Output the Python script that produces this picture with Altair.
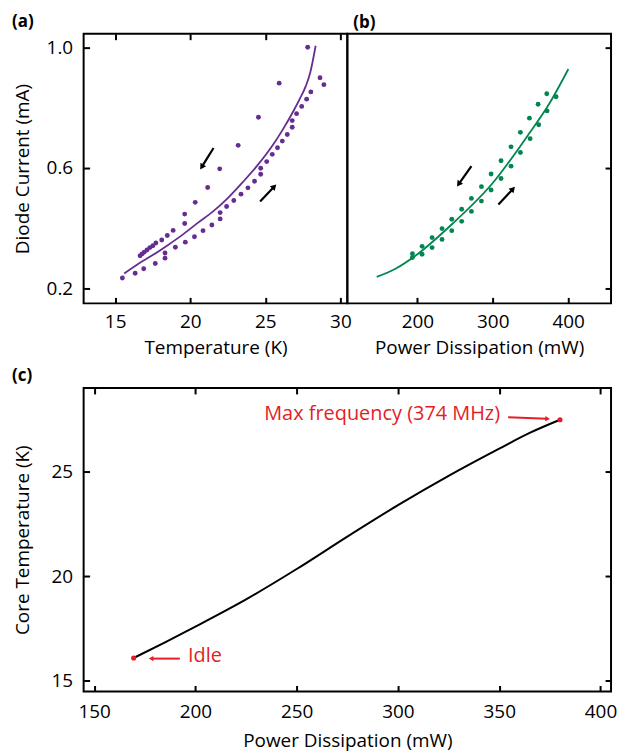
import altair as alt
import pandas as pd

FONT = "Open Sans"
PURPLE = "#662d91"
GREEN = "#00864f"
RED = "#e31e26"

# ---------------- panel (a): temperature vs diode current ----------------
a_warm_T = [15.48, 16.33, 16.90, 17.67, 18.32, 18.32, 19.01, 19.67, 20.28, 20.85, 21.44,
            21.99, 21.99, 22.42, 22.90, 23.38, 23.84, 24.28, 24.69, 24.69, 25.09, 25.46,
            25.81, 26.13, 26.46, 26.79, 26.79, 27.08, 27.42, 27.75, 28.03, 28.64, 28.90]
a_warm_I = [0.235, 0.251, 0.266, 0.283, 0.301, 0.318, 0.337, 0.354, 0.372, 0.392, 0.411,
            0.431, 0.452, 0.472, 0.492, 0.513, 0.534, 0.556, 0.579, 0.599, 0.621, 0.645,
            0.667, 0.689, 0.711, 0.735, 0.757, 0.780, 0.804, 0.828, 0.852, 0.899, 0.876]
a_cool_T = [27.82, 25.92, 24.54, 23.19, 21.96, 21.16, 20.33, 19.63, 19.63, 18.86, 18.47,
            18.10, 17.71, 17.51, 17.31, 17.12, 16.94, 16.79, 16.66]
a_cool_I = [1.000, 0.881, 0.768, 0.675, 0.597, 0.535, 0.486, 0.447, 0.416, 0.393, 0.376,
            0.361, 0.351, 0.342, 0.336, 0.328, 0.321, 0.315, 0.309]
a_fit_T = [15.6, 16.5, 17.5, 18.5, 19.5, 20.5, 21.5, 22.5, 23.5, 24.5, 25.5, 26.1, 26.8,
           27.3, 27.7, 28.0, 28.35]
a_fit_I = [0.250, 0.281, 0.311, 0.344, 0.379, 0.418, 0.455, 0.500, 0.553, 0.610, 0.676,
           0.722, 0.782, 0.830, 0.872, 0.918, 1.005]
a_arrow_x0 = [21.55, 24.65]
a_arrow_y0 = [0.666, 0.489]
a_arrow_x1 = [20.80, 25.55]
a_arrow_y1 = [0.606, 0.536]
a_arrow_ang = [212, 44]
a_xticks = [15, 20, 25, 30]
a_yticks = [0.2, 0.6, 1.0]

# ---------------- panel (b): power vs diode current ----------------
b_up_P = [193.4, 206.2, 219.5, 232.7, 245.6, 258.8, 271.7, 285.0, 297.8, 311.0, 324.3,
          336.7, 348.7, 360.2, 371.7]
b_up_I = [0.316, 0.340, 0.369, 0.399, 0.430, 0.463, 0.499, 0.538, 0.580, 0.624, 0.670,
          0.718, 0.765, 0.811, 0.846]
b_lo_P = [193.4, 206.2, 219.5, 232.7, 245.6, 258.8, 271.7, 285.0, 297.8, 311.0, 324.3,
          336.7, 349.6, 361.0, 372.1, 384.0]
b_lo_I = [0.303, 0.314, 0.336, 0.363, 0.392, 0.423, 0.456, 0.490, 0.527, 0.565, 0.606,
          0.651, 0.697, 0.743, 0.789, 0.836]
b_fit_P = [146, 171, 200, 246.5, 300, 348, 374.8, 400.4]
b_fit_I = [0.239, 0.266, 0.314, 0.415, 0.550, 0.713, 0.812, 0.928]
b_arrow_x0 = [271.7, 307.5]
b_arrow_y0 = [0.606, 0.479]
b_arrow_x1 = [255.5, 326.0]
b_arrow_y1 = [0.549, 0.528]
b_arrow_ang = [215, 43]
b_xticks = [200, 300, 400]

# ---------------- panel (c): power vs core temperature ----------------
c_P = [169.5, 185, 200, 225, 250, 275, 300, 325, 350, 365, 380]
c_T = [16.10, 16.85, 17.60, 18.90, 20.35, 21.90, 23.40, 24.80, 26.10, 26.85, 27.48]
c_mark_P = [169.5, 380.0]
c_mark_T = [16.10, 27.48]
c_arrow_x0 = [192.3, 354.4]
c_arrow_y0 = [16.07, 27.60]
c_arrow_x1 = [178.5, 373.5]
c_arrow_y1 = [16.07, 27.53]
c_arrow_ang = [270, 94]
c_labels = ["Idle", "Max frequency (374 MHz)"]
c_label_P = [196.3, 350.4]
c_label_T = [16.20, 27.75]
c_label_align = ["left", "right"]
c_xticks = [150, 200, 250, 300, 350, 400]
c_yticks = [15, 20, 25]

FS = 19


def axis(**kw):
    base = dict(domain=False, grid=False, tickColor="black", tickWidth=2, tickSize=6,
                offset=-6, labelFlush=False, labelFont=FONT, labelFontSize=FS,
                labelColor="black", titleFont=FONT, titleFontSize=FS,
                titleFontWeight="normal", titleColor="black")
    base.update(kw)
    return alt.Axis(**base)


def panel_title(text, dx):
    return alt.TitleParams(text, anchor="start", frame="group", dx=dx, offset=2,
                           fontSize=17, fontWeight="bold", font=FONT, color="black")


# ---- panel (a)
xa = alt.Scale(domain=[12.9, 30.46], nice=False, zero=False)
ya = alt.Scale(domain=[0.151, 1.045], nice=False, zero=False)
a_pts_df = pd.DataFrame({"T": a_warm_T + a_cool_T, "I": a_warm_I + a_cool_I})
a_fit_df = pd.DataFrame({"T": a_fit_T, "I": a_fit_I})
a_arr_df = pd.DataFrame({"x0": a_arrow_x0, "y0": a_arrow_y0, "x1": a_arrow_x1,
                         "y1": a_arrow_y1, "ang": a_arrow_ang})

a_pts = alt.Chart(a_pts_df).mark_circle(size=24, color=PURPLE, opacity=1).encode(
    x=alt.X("T:Q", scale=xa, axis=axis(values=a_xticks, title="Temperature (K)",
                                        labelPadding=9, titlePadding=7)),
    y=alt.Y("I:Q", scale=ya, axis=axis(values=a_yticks, format=".1f",
                                        title="Diode Current (mA)",
                                        labelPadding=11, titlePadding=14)),
)
a_fit = alt.Chart(a_fit_df).mark_line(color=PURPLE, strokeWidth=1.8,
                                      interpolate="monotone").encode(
    x=alt.X("T:Q", scale=xa, axis=axis(orient="top", values=a_xticks, labels=False,
                                        title=None)),
    y=alt.Y("I:Q", scale=ya),
)
a_shaft = alt.Chart(a_arr_df).mark_rule(color="black", strokeWidth=2.2).encode(
    x=alt.X("x0:Q", scale=xa, axis=None), y=alt.Y("y0:Q", scale=ya),
    x2="x1", y2="y1",
)
a_head = alt.Chart(a_arr_df).mark_point(shape="triangle", filled=True, color="black",
                                        opacity=1, size=45).encode(
    x=alt.X("x1:Q", scale=xa, axis=None), y=alt.Y("y1:Q", scale=ya),
    angle=alt.Angle("ang:Q", scale=None),
)
panel_a = alt.layer(a_pts, a_fit, a_shaft, a_head).resolve_axis(x="independent").properties(
    width=265, height=271, title=panel_title("(a)", -72))

# ---- panel (b)
xb = alt.Scale(domain=[107, 457], nice=False, zero=False)
yb = alt.Scale(domain=[0.151, 1.045], nice=False, zero=False)
b_pts_df = pd.DataFrame({"P": b_up_P + b_lo_P, "I": b_up_I + b_lo_I})
b_fit_df = pd.DataFrame({"P": b_fit_P, "I": b_fit_I})
b_arr_df = pd.DataFrame({"x0": b_arrow_x0, "y0": b_arrow_y0, "x1": b_arrow_x1,
                         "y1": b_arrow_y1, "ang": b_arrow_ang})
b_pts = alt.Chart(b_pts_df).mark_circle(size=24, color=GREEN, opacity=1).encode(
    x=alt.X("P:Q", scale=xb, axis=axis(values=b_xticks, title="Power Dissipation (mW)",
                                        labelPadding=9, titlePadding=7)),
    y=alt.Y("I:Q", scale=yb, axis=axis(orient="right", values=a_yticks, labels=False,
                                        title=None)),
)
b_fit = alt.Chart(b_fit_df).mark_line(color=GREEN, strokeWidth=1.8,
                                      interpolate="monotone").encode(
    x=alt.X("P:Q", scale=xb), y=alt.Y("I:Q", scale=yb),
)
b_shaft = alt.Chart(b_arr_df).mark_rule(color="black", strokeWidth=2.2).encode(
    x=alt.X("x0:Q", scale=xb), y=alt.Y("y0:Q", scale=yb), x2="x1", y2="y1",
)
b_head = alt.Chart(b_arr_df).mark_point(shape="triangle", filled=True, color="black",
                                        opacity=1, size=45).encode(
    x=alt.X("x1:Q", scale=xb), y=alt.Y("y1:Q", scale=yb),
    angle=alt.Angle("ang:Q", scale=None),
)
panel_b = alt.layer(b_pts, b_fit, b_shaft, b_head).properties(
    width=265, height=271, title=panel_title("(b)", 6))

# ---- panel (c)
xc = alt.Scale(domain=[144.8, 405.2], nice=False, zero=False)
yc = alt.Scale(domain=[14.5, 29.0], nice=False, zero=False)
c_df = pd.DataFrame({"P": c_P, "T": c_T})
c_mark_df = pd.DataFrame({"P": c_mark_P, "T": c_mark_T})
c_arr_df = pd.DataFrame({"x0": c_arrow_x0, "y0": c_arrow_y0, "x1": c_arrow_x1,
                         "y1": c_arrow_y1, "ang": c_arrow_ang})
c_lab_df = pd.DataFrame({"P": c_label_P, "T": c_label_T, "txt": c_labels,
                         "al": c_label_align})

c_line = alt.Chart(c_df).mark_line(color="black", strokeWidth=2,
                                   interpolate="monotone").encode(
    x=alt.X("P:Q", scale=xc, axis=axis(values=c_xticks, title="Power Dissipation (mW)",
                                        labelPadding=11, titlePadding=10)),
    y=alt.Y("T:Q", scale=yc, axis=axis(values=c_yticks, title="Core Temperature (K)",
                                        labelPadding=11, titlePadding=19)),
)
c_dots = alt.Chart(c_mark_df).mark_circle(size=26, color=RED, opacity=1).encode(
    x=alt.X("P:Q", scale=xc, axis=axis(orient="top", values=c_xticks, labels=False,
                                        title=None)),
    y=alt.Y("T:Q", scale=yc, axis=axis(orient="right", values=c_yticks, labels=False,
                                        title=None)),
)
c_shaft = alt.Chart(c_arr_df).mark_rule(color=RED, strokeWidth=2).encode(
    x=alt.X("x0:Q", scale=xc, axis=None), y=alt.Y("y0:Q", scale=yc, axis=None),
    x2="x1", y2="y1",
)
c_head = alt.Chart(c_arr_df).mark_point(shape="triangle", filled=True, color=RED,
                                        opacity=1, size=30).encode(
    x=alt.X("x1:Q", scale=xc, axis=None), y=alt.Y("y1:Q", scale=yc, axis=None),
    angle=alt.Angle("ang:Q", scale=None),
)
c_text_left = alt.Chart(c_lab_df).transform_filter(alt.datum.al == "left").mark_text(
    align="left", baseline="middle", font=FONT, fontSize=20, color=RED).encode(
    x=alt.X("P:Q", scale=xc, axis=None), y=alt.Y("T:Q", scale=yc, axis=None),
    text="txt:N",
)
c_text_right = alt.Chart(c_lab_df).transform_filter(alt.datum.al == "right").mark_text(
    align="right", baseline="middle", font=FONT, fontSize=20, color=RED).encode(
    x=alt.X("P:Q", scale=xc, axis=None), y=alt.Y("T:Q", scale=yc, axis=None),
    text="txt:N",
)
panel_c = alt.layer(c_line, c_dots, c_shaft, c_head, c_text_left, c_text_right).resolve_axis(
    x="independent", y="independent").properties(
    width=530, height=305, title=panel_title("(c)", -72))

top = alt.hconcat(panel_a, panel_b, spacing=0, bounds="flush")
chart = alt.vconcat(top, panel_c, spacing=8).properties(
    padding={"left": 3, "top": 2, "right": 0, "bottom": 0}
).configure(font=FONT, view=alt.ViewConfig(stroke="black", strokeWidth=2))

chart.save("out.html", embed_options={"renderer": "svg", "actions": False})
